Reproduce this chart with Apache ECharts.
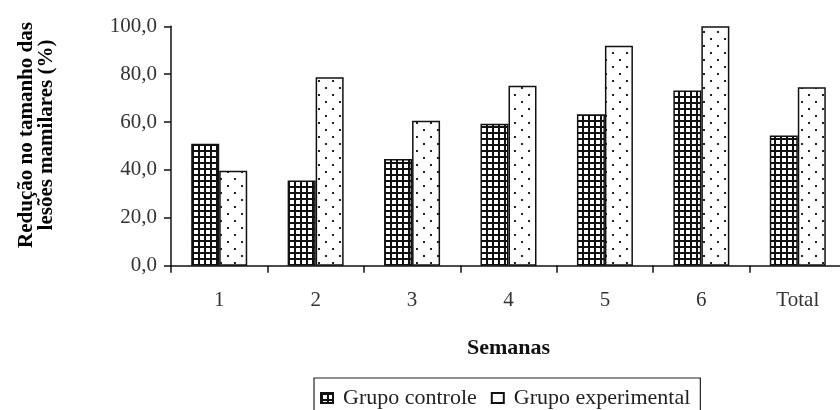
<!DOCTYPE html>
<html>
<head>
<meta charset="utf-8">
<script src="https://cdn.jsdelivr.net/npm/echarts@6/dist/echarts.min.js"></script>
<style>html,body{margin:0;padding:0;background:#fff;}#c{width:840px;height:410px;}</style>
</head>
<body>
<div id="c"></div>
<script>
const categories = ['1', '2', '3', '4', '5', '6', 'Total'];
const controle = [50.9, 35.6, 44.6, 59.3, 63.3, 73.2, 54.4];
const experimental = [39.7, 78.7, 60.5, 75.2, 91.9, 100.0, 74.5];
const seriesNames = ['Grupo controle', 'Grupo experimental'];
const yTicks = { min: 0, max: 100, interval: 20 };

function gridPattern() {
  const c = document.createElement('canvas');
  c.width = 6; c.height = 6;
  const g = c.getContext('2d');
  g.fillStyle = '#fff'; g.fillRect(0, 0, 6, 6);
  g.fillStyle = '#111';
  g.fillRect(0, 0, 6, 2);
  g.fillRect(0, 0, 2, 6);
  return c;
}
function dotPattern() {
  const c = document.createElement('canvas');
  c.width = 14; c.height = 14;
  const g = c.getContext('2d');
  g.fillStyle = '#fff'; g.fillRect(0, 0, 14, 14);
  g.fillStyle = '#222';
  g.fillRect(3, 3, 2, 2);
  g.fillRect(10, 10, 2, 2);
  return c;
}

const FONT = "'Liberation Serif', 'Times New Roman', serif";
const chart = echarts.init(document.getElementById('c'), null, { renderer: 'canvas' });
chart.setOption({
  animation: false,
  backgroundColor: '#fff',
  grid: { left: 171, top: 26.3, width: 675, height: 239.4, containLabel: false, outerBoundsMode: 'none' },
  legend: {
    left: 314, top: 378,
    orient: 'horizontal',
    icon: 'rect',
    borderColor: '#222', borderWidth: 1.2,
    padding: [9, 10, 10, 6],
    itemWidth: 12, itemHeight: 10, itemGap: 14,
    textStyle: { fontFamily: FONT, fontSize: 22, color: '#222', padding: [0, 0, 0, 5] },
    data: [
      { name: seriesNames[0] },
      { name: seriesNames[1], itemStyle: { color: '#fff' } }
    ]
  },
  graphic: [{
    type: 'text',
    x: 37, y: 135,
    rotation: Math.PI / 2,
    style: {
      text: 'Redução no tamanho das\nlesões mamilares (%)',
      fontFamily: FONT, fontSize: 21, fontWeight: 'bold', fill: '#000',
      textAlign: 'center', textVerticalAlign: 'middle', lineHeight: 20
    }
  }],
  xAxis: {
    type: 'category',
    data: categories,
    name: 'Semanas',
    nameLocation: 'middle',
    nameGap: 72,
    nameTextStyle: { fontFamily: FONT, fontSize: 22, fontWeight: 'bold', color: '#111' },
    axisLine: { lineStyle: { color: '#111', width: 1.5 } },
    axisTick: { show: true, length: 7, inside: false, lineStyle: { color: '#111', width: 1.5 } },
    axisLabel: { fontFamily: FONT, fontSize: 21, color: '#333', margin: 24 },
    splitLine: { show: false }
  },
  yAxis: {
    type: 'value',
    min: yTicks.min, max: yTicks.max, interval: yTicks.interval,
    axisLine: { show: true, lineStyle: { color: '#111', width: 1.5 } },
    axisTick: { show: true, length: 7, inside: false, lineStyle: { color: '#111', width: 1.5 } },
    axisLabel: {
      fontFamily: FONT, fontSize: 21, color: '#333', margin: 14,
      formatter: v => v.toFixed(1).replace('.', ',')
    },
    splitLine: { show: false }
  },
  series: [
    {
      name: seriesNames[0], type: 'bar', data: controle,
      barWidth: 28, barGap: '0%',
      itemStyle: { color: { image: gridPattern(), repeat: 'repeat' }, borderColor: '#111', borderWidth: 1.5 }
    },
    {
      name: seriesNames[1], type: 'bar', data: experimental,
      barWidth: 28, barGap: '0%',
      itemStyle: { color: { image: dotPattern(), repeat: 'repeat' }, borderColor: '#111', borderWidth: 1.5 }
    }
  ]
});
</script>
</body>
</html>
